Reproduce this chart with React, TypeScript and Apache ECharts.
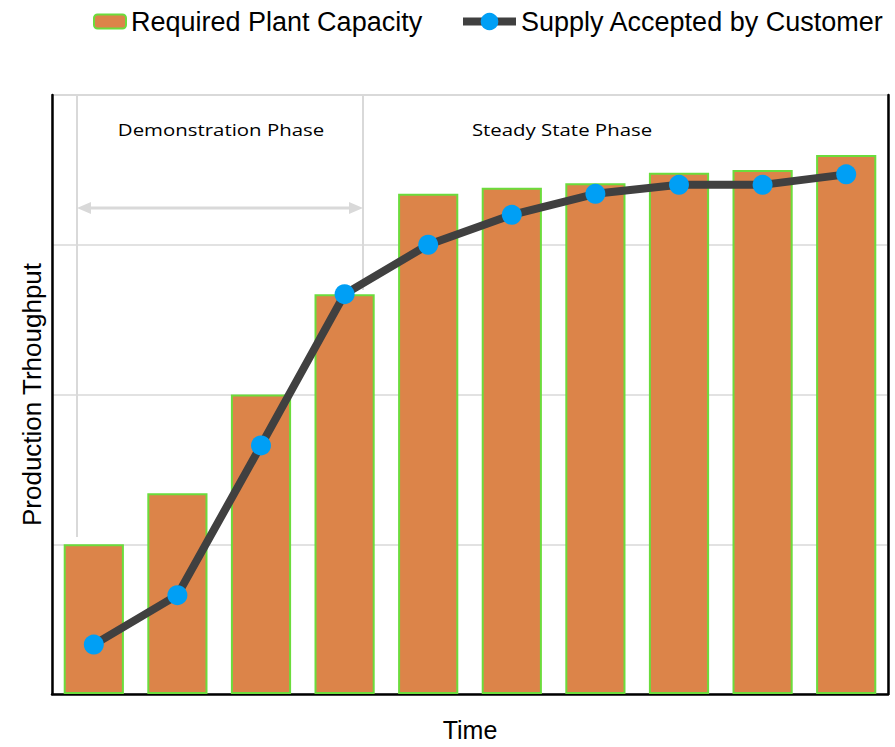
import React, { useEffect, useRef } from "react";
import * as echarts from "echarts";

const categories = ["1", "2", "3", "4", "5", "6", "7", "8", "9", "10"];
const requiredCapacity = [1.0, 1.34, 2.0, 2.67, 3.34, 3.38, 3.41, 3.48, 3.5, 3.6];
const supplyAccepted = [0.33, 0.66, 1.66, 2.67, 3.0, 3.2, 3.34, 3.4, 3.4, 3.47];
const yTicks = [0, 1, 2, 3, 4];

const GRAY = "#d9d9d9";

export default function App() {
  const ref = useRef<HTMLDivElement>(null);
  useEffect(() => {
    if (!ref.current) return;
    const chart = echarts.init(ref.current, undefined, { renderer: "svg" });
    const arrowY = 208;
    const xL = 77;
    const xR = 363;
    chart.setOption({
      animation: false,
      backgroundColor: "#ffffff",
      textStyle: { fontFamily: "Liberation Sans" },
      legend: [
        {
          data: ["Required Plant Capacity"],
          left: 93,
          top: 8,
          padding: 0,
          itemWidth: 32,
          itemHeight: 14,
          itemGap: 4,
          textStyle: { fontSize: 27, color: "#000", fontFamily: "Liberation Sans" },
        },
        {
          data: ["Supply Accepted by Customer"],
          left: 459,
          top: 8,
          padding: 0,
          itemWidth: 53,
          itemHeight: 22,
          itemGap: 4,
          lineStyle: { width: 8, color: "#404040" },
          textStyle: { fontSize: 27, color: "#000", fontFamily: "Liberation Sans" },
        },
      ],
      grid: {
        left: 52,
        right: 7,
        top: 95,
        bottom: 50,
        containLabel: false,
        show: true,
        borderColor: GRAY,
        borderWidth: 2,
      },
      xAxis: {
        type: "category",
        data: categories,
        name: "Time",
        nameLocation: "middle",
        nameGap: 23,
        nameTextStyle: { fontSize: 25, color: "#000", fontFamily: "Liberation Sans" },
        axisLine: { show: true, lineStyle: { color: "#000", width: 2.5 } },
        axisTick: { show: false },
        axisLabel: { show: false },
      },
      yAxis: [
        {
          type: "value",
          min: yTicks[0],
          max: yTicks[yTicks.length - 1],
          interval: 1,
          name: "Production Trhoughput",
          nameLocation: "middle",
          nameGap: 7,
          nameTextStyle: { fontSize: 26, color: "#000", fontFamily: "Liberation Sans" },
          axisLine: { show: true, lineStyle: { color: "#000", width: 2.5 } },
          axisTick: { show: false },
          axisLabel: { show: false },
          splitLine: { show: true, lineStyle: { color: GRAY, width: 1.5 } },
        },
        {
          type: "value",
          position: "right",
          min: yTicks[0],
          max: yTicks[yTicks.length - 1],
          interval: 1,
          axisLine: { show: true, lineStyle: { color: "#000", width: 2.5 } },
          axisTick: { show: false },
          axisLabel: { show: false },
          splitLine: { show: false },
        },
      ],
      series: [
        {
          name: "Required Plant Capacity",
          type: "bar",
          data: requiredCapacity,
          barCategoryGap: "28%",
          itemStyle: { color: "#dc8449", borderColor: "#6bdc3c", borderWidth: 2 },
          z: 2,
        },
        {
          name: "Supply Accepted by Customer",
          type: "line",
          data: supplyAccepted,
          symbol: "circle",
          symbolSize: 20,
          lineStyle: { color: "#404040", width: 8 },
          itemStyle: { color: "#009ff5" },
          z: 5,
        },
      ],
      graphic: [
        { type: "line", z: 1, shape: { x1: xL, y1: 96, x2: xL, y2: 537 }, style: { stroke: GRAY, lineWidth: 2 } },
        { type: "line", z: 1, shape: { x1: xR, y1: 96, x2: xR, y2: 290 }, style: { stroke: GRAY, lineWidth: 2 } },
        { type: "line", z: 1, shape: { x1: xL + 8, y1: arrowY, x2: xR - 8, y2: arrowY }, style: { stroke: GRAY, lineWidth: 3 } },
        { type: "polygon", z: 1, shape: { points: [[xL, arrowY], [xL + 14, arrowY - 6], [xL + 14, arrowY + 6]] }, style: { fill: GRAY } },
        { type: "polygon", z: 1, shape: { points: [[xR, arrowY], [xR - 14, arrowY - 6], [xR - 14, arrowY + 6]] }, style: { fill: GRAY } },
        {
          type: "text",
          x: 221,
          y: 129,
          scaleX: 1.2,
          style: { text: "Demonstration Phase", fontSize: 17, fontFamily: "Open Sans", fill: "#000", align: "center", verticalAlign: "middle" },
        },
        {
          type: "text",
          x: 562,
          y: 129,
          scaleX: 1.2,
          style: { text: "Steady State Phase", fontSize: 17, fontFamily: "Open Sans", fill: "#000", align: "center", verticalAlign: "middle" },
        },
      ],
    });
    return () => chart.dispose();
  }, []);
  return <div ref={ref} style={{ position: "absolute", left: 0, top: 0, width: 895, height: 747 }} />;
}
